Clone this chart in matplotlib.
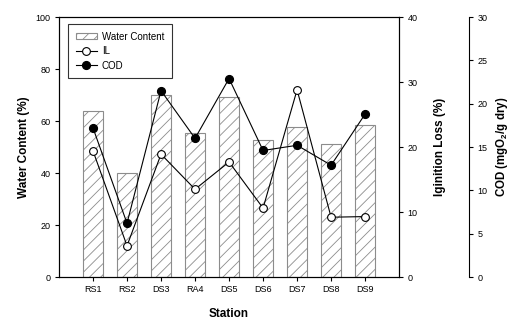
import matplotlib.pyplot as plt
from matplotlib.lines import Line2D
from matplotlib.patches import Patch

plt.rcParams['font.family'] = ['Liberation Sans', 'DejaVu Sans']
plt.rcParams['hatch.color'] = '#8c8c8c'
plt.rcParams['hatch.linewidth'] = 0.6

stations = ["RS1", "RS2", "DS3", "RA4", "DS5", "DS6", "DS7", "DS8", "DS9"]
water_content = [64.0, 40.0, 70.0, 55.3, 69.2, 52.7, 57.6, 51.0, 58.3]
ignition_loss = [19.4, 4.8, 18.9, 13.5, 17.7, 10.6, 28.8, 9.2, 9.3]
cod = [17.2, 6.2, 21.5, 16.0, 22.9, 14.6, 15.2, 12.9, 18.8]

x = list(range(1, len(stations) + 1))

fig = plt.figure(figsize=(5.13, 3.21), dpi=100)
ax = fig.add_axes([0.115, 0.137, 0.663, 0.81])

# bars for water content
ax.bar(x, water_content, width=0.6, color='white', edgecolor='#8c8c8c',
       linewidth=0.8, hatch='///', zorder=1)
ax.set_xlim(0, 10)
ax.set_ylim(0, 100)
ax.set_xticks(x)
ax.set_xticklabels(stations)
ax.set_yticks([0, 20, 40, 60, 80, 100])
ax.set_ylabel("Water Content (%)", fontsize=8.5, fontweight='bold', labelpad=4)
ax.set_xlabel("Station", fontsize=8.5, fontweight='bold', labelpad=10)
ax.tick_params(labelsize=6.5, length=3, width=0.8, pad=3)

# ignition loss on right axis
ax2 = ax.twinx()
ax2.plot(x, ignition_loss, color='black', lw=0.8, marker='o', markersize=5.6,
         markerfacecolor='white', markeredgecolor='black', markeredgewidth=0.8)
ax2.set_ylim(0, 40)
ax2.set_yticks([0, 10, 20, 30, 40])
ax2.set_ylabel("Iginition Loss (%)", fontsize=8.5, fontweight='bold', labelpad=12)
ax2.tick_params(labelsize=6.5, length=3, width=0.8, pad=3)

# COD on third axis
ax3 = ax.twinx()
ax3.spines['right'].set_position(('axes', 1.206))
ax3.plot(x, cod, color='black', lw=0.8, marker='o', markersize=5.6,
         markerfacecolor='black', markeredgecolor='black')
ax3.set_ylim(0, 30)
ax3.set_yticks([0, 5, 10, 15, 20, 25, 30])
ax3.set_ylabel("COD (mgO$_\\mathregular{2}$/g dry)", fontsize=8.3, fontweight='bold', labelpad=5)
ax3.tick_params(labelsize=6.5, length=3, width=0.8, pad=3)
for s in ['top', 'left', 'bottom']:
    ax3.spines[s].set_visible(False)

for a in (ax, ax2, ax3):
    for s in a.spines.values():
        s.set_linewidth(0.8)

handles = [
    Patch(facecolor='white', edgecolor='#8c8c8c', hatch='///', linewidth=0.8),
    Line2D([], [], color='black', lw=0.8, marker='o', markersize=5.6,
           markerfacecolor='white', markeredgewidth=0.8),
    Line2D([], [], color='black', lw=0.8, marker='o', markersize=5.6,
           markerfacecolor='black'),
]
leg = ax3.legend(handles, ["Water Content", "IL", "COD"], loc='upper left',
                 bbox_to_anchor=(0.026, 0.973), fontsize=7, frameon=True,
                 fancybox=False, handlelength=2.2, handleheight=0.6,
                 borderpad=0.8, labelspacing=0.45, handletextpad=0.5,
                 borderaxespad=0)
leg.get_frame().set_edgecolor('black')
leg.get_frame().set_linewidth(0.8)

fig.savefig("out.png", dpi=100)
